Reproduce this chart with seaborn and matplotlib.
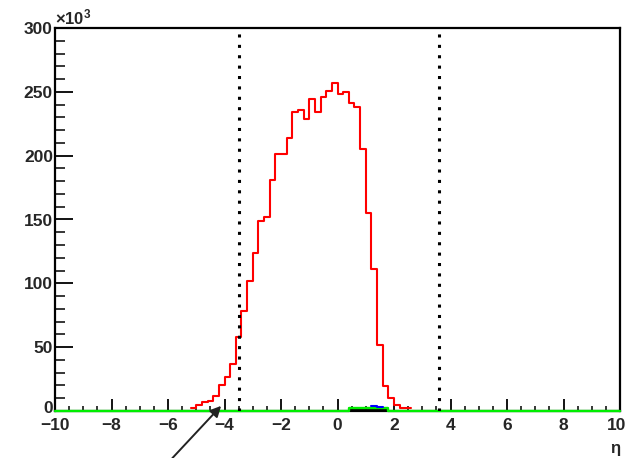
import numpy as np
import pandas as pd
import matplotlib
matplotlib.use("Agg")
import matplotlib.pyplot as plt
import matplotlib.transforms as mtransforms
from matplotlib.ticker import MultipleLocator
import seaborn as sns

# Binning of the eta distribution (0.2 wide bins over [-10, 10])
eta_min, eta_max, bin_width = -10.0, 10.0, 0.2

# Main distribution (counts in units of 10^3), first bin starts at red_start
red_start = -5.2
red_counts = [2, 4.5, 7, 8, 12, 20, 27, 37, 58, 78, 102,
              124, 149, 152, 181, 201, 201, 214, 234, 236, 229,
              244, 234, 246, 251, 257, 248, 250, 241, 238, 205,
              155, 111, 52, 19.5, 10, 4.7, 2.6, 2.6]

# Small contributions near eta ~ 1
green_start = 0.4
green_counts = [2.5, 2.6, 2.6, 2.6, 2.6, 2.6, 2.5]
black_start = 0.4
black_counts = [0.8, 0.8, 0.8, 0.8, 0.8, 0.8, 0.8]
blue_start = 1.2
blue_counts = [4.2, 3.5]

# Acceptance limits
eta_cuts = [-3.5, 3.6]

y_max = 300
x_ticks = [-10, -8, -6, -4, -2, 0, 2, 4, 6, 8, 10]
y_ticks = [0, 50, 100, 150, 200, 250, 300]

edges = np.round(np.arange(eta_min, eta_max + bin_width / 2, bin_width), 6)
centers = (edges[:-1] + edges[1:]) / 2


def series(start, counts):
    i0 = int(round((start - eta_min) / bin_width))
    df = pd.DataFrame({"eta": centers[i0:i0 + len(counts)],
                       "w": np.asarray(counts, float)})
    return df, edges[i0:i0 + len(counts) + 1].tolist()


def full_range(start, counts):
    w = np.zeros(len(centers))
    i0 = int(round((start - eta_min) / bin_width))
    w[i0:i0 + len(counts)] = counts
    return pd.DataFrame({"eta": centers, "w": w}), edges.tolist()


sns.set_style("white")
plt.rcParams["font.family"] = ["Liberation Sans", "DejaVu Sans"]
plt.rcParams["mathtext.fontset"] = "custom"
plt.rcParams["mathtext.rm"] = "Liberation Sans:bold"
plt.rcParams["mathtext.it"] = "Liberation Sans:bold"

fig = plt.figure(figsize=(6.28, 4.58), dpi=100)
ax = fig.add_axes([55 / 628, 1 - 411 / 458, 565 / 628, 383 / 458])


def step_hist(df, bins, color, lw, z):
    sns.histplot(data=df, x="eta", weights="w", bins=bins, element="step",
                 fill=False, color=color, linewidth=lw, ax=ax)
    line = ax.lines[-1]
    line.set_zorder(z)
    line.set_clip_on(False)


# green histogram spans the full axis (zero outside the small bump)
step_hist(*series(black_start, black_counts), "black", 1.4, 2.6)
step_hist(*full_range(green_start, green_counts), "#00ee00", 1.7, 2.7)
step_hist(*series(red_start, red_counts), "#ff0000", 1.5, 2.8)
step_hist(*series(blue_start, blue_counts), "#0000ff", 1.5, 2.9)

for c in eta_cuts:
    ax.axvline(c, color="black", linewidth=2.2, linestyle=(0, (1, 2.4)), zorder=3)

ax.set_xlim(eta_min, eta_max)
ax.set_ylim(0, y_max)
ax.set_ylabel("")
ax.set_xlabel("η", loc="right", fontsize=12, fontweight="bold", labelpad=6)

ax.set_xticks(x_ticks)
ax.set_yticks(y_ticks)
ax.xaxis.set_minor_locator(MultipleLocator(0.5))
ax.yaxis.set_minor_locator(MultipleLocator(10))
ax.tick_params(bottom=True, left=True, top=False, right=False, which="both")
ax.xaxis.set_tick_params(which="major", direction="in", length=8.5, width=1.3,
                         pad=5, labelsize=12.5, color="black")
ax.xaxis.set_tick_params(which="minor", direction="in", length=3.8, width=1.1,
                         color="black")
ax.yaxis.set_tick_params(which="major", direction="in", length=13, width=1.3,
                         pad=1.5, labelsize=12.5, color="black")
ax.yaxis.set_tick_params(which="minor", direction="in", length=7, width=1.1,
                         color="black")
for lab in ax.get_xticklabels() + ax.get_yticklabels():
    lab.set_fontweight("bold")


def nudge(label, dx_pt, dy_pt):
    label.set_transform(label.get_transform()
                        + mtransforms.ScaledTranslation(dx_pt / 72, dy_pt / 72,
                                                        fig.dpi_scale_trans))


# keep the corner labels clear of each other and of the figure edge
nudge(ax.get_yticklabels()[0], 0, 3)
nudge(ax.get_xticklabels()[-1], -2.5, 0)

for side in ["left", "right", "top", "bottom"]:
    ax.spines[side].set_visible(True)
    ax.spines[side].set_color("black")
    ax.spines[side].set_linewidth(1.6)

ax.text(0.0, 1.002, r"$\times10^{3}$", transform=ax.transAxes,
        ha="left", va="bottom", fontsize=12)

ax.annotate("", xy=(-4.12, 4), xytext=(-5.85, -37),
            arrowprops=dict(arrowstyle="-|>", color="#222222", lw=1.4,
                            mutation_scale=16, shrinkA=0, shrinkB=0),
            annotation_clip=False)

fig.savefig("out.png", dpi=100)
